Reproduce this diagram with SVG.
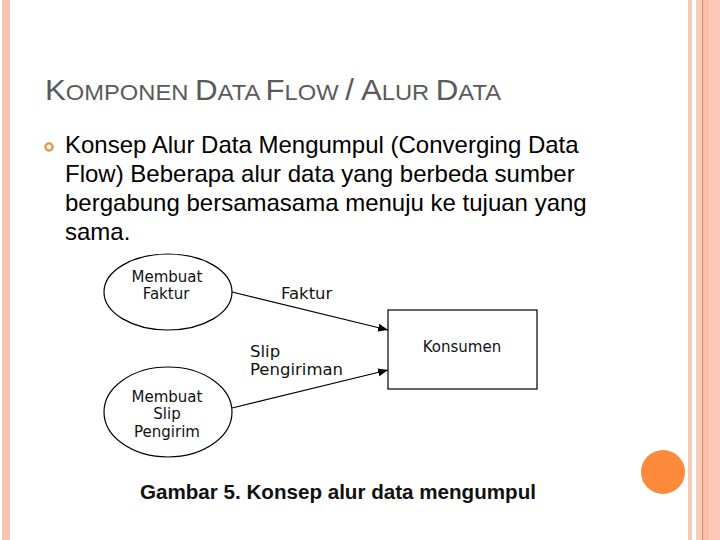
<svg xmlns="http://www.w3.org/2000/svg" width="720" height="540" viewBox="0 0 720 540">
<style>
.title{font-family:"Liberation Sans",Arial,sans-serif;fill:#5a5a5a}
.body{font-family:"Liberation Sans",Arial,sans-serif;font-size:24px;fill:#000}
.lbl{font-family:"DejaVu Sans",Verdana,sans-serif;font-size:15px;fill:#111}
.elbl{font-family:"DejaVu Sans",Verdana,sans-serif;font-size:16.5px;fill:#111}
.node{fill:#fff;stroke:#000;stroke-width:1.2}
.edge{stroke:#000;stroke-width:1.2;fill:none;marker-end:url(#ah)}
.cap{font-family:"Liberation Sans",Arial,sans-serif;font-size:20.6px;font-weight:bold;fill:#111}
</style>
<defs>
<marker id="ah" viewBox="0 0 10 10" refX="10" refY="5" markerWidth="10" markerHeight="10" markerUnits="userSpaceOnUse" orient="auto">
<path d="M0,1 L10,5 L0,9 z" fill="#000"/>
</marker>
</defs>
<rect width="720" height="540" fill="#fff"/>
<!-- left border -->
<rect x="2" y="0" width="8" height="540" fill="#f7c4b0"/>
<!-- right border -->
<rect x="688" y="0" width="4" height="540" fill="#f8cbb8"/>
<rect x="696" y="0" width="6" height="540" fill="#f9cdb9"/>
<rect x="702" y="0" width="1.5" height="540" fill="#d98a62"/>
<rect x="703.5" y="0" width="6" height="540" fill="#fbbfa3"/>
<rect x="709.5" y="0" width="10.5" height="540" fill="#fdc8b6"/>
<circle cx="663" cy="472" r="22" fill="#fb8a3a"/>
<!-- title -->
<text class="title" x="45" y="100" textLength="456" lengthAdjust="spacingAndGlyphs"><tspan font-size="29">K</tspan><tspan font-size="22">OMPONEN </tspan><tspan font-size="29">D</tspan><tspan font-size="22">ATA </tspan><tspan font-size="29">F</tspan><tspan font-size="22">LOW </tspan><tspan font-size="29">/ A</tspan><tspan font-size="22">LUR </tspan><tspan font-size="29">D</tspan><tspan font-size="22">ATA</tspan></text>
<!-- bullet -->
<circle cx="49" cy="147" r="3.6" fill="none" stroke="#f0903a" stroke-width="2.2"/>
<text class="body" x="65" y="153">Konsep Alur Data Mengumpul (Converging Data</text>
<text class="body" x="65" y="182">Flow) Beberapa alur data yang berbeda sumber</text>
<text class="body" x="65" y="211">bergabung bersamasama menuju ke tujuan yang</text>
<text class="body" x="65" y="240">sama.</text>
<!-- connectors -->
<g id="connectors">
<line class="edge" x1="232" y1="292" x2="388" y2="330"/>
<line class="edge" x1="232" y1="408" x2="388" y2="370"/>
<text class="elbl" x="281" y="299">Faktur</text>
<text class="elbl" x="250" y="357">Slip</text>
<text class="elbl" x="250" y="375">Pengiriman</text>
</g>
<g id="membuat-faktur">
<ellipse class="node" cx="168" cy="292" rx="64" ry="38"/>
<text class="lbl" x="167" y="282" text-anchor="middle">Membuat</text>
<text class="lbl" x="166" y="299" text-anchor="middle">Faktur</text>
</g>
<g id="membuat-slip">
<ellipse class="node" cx="168" cy="412" rx="64" ry="45"/>
<text class="lbl" x="167" y="402" text-anchor="middle">Membuat</text>
<text class="lbl" x="167" y="419" text-anchor="middle">Slip</text>
<text class="lbl" x="167" y="437" text-anchor="middle">Pengirim</text>
</g>
<g id="konsumen">
<rect class="node" x="388" y="310" width="149" height="79"/>
<text class="lbl" x="462" y="352" text-anchor="middle" font-size="16.5">Konsumen</text>
</g>
<text class="cap" x="140" y="499">Gambar 5. Konsep alur data mengumpul</text>
</svg>
